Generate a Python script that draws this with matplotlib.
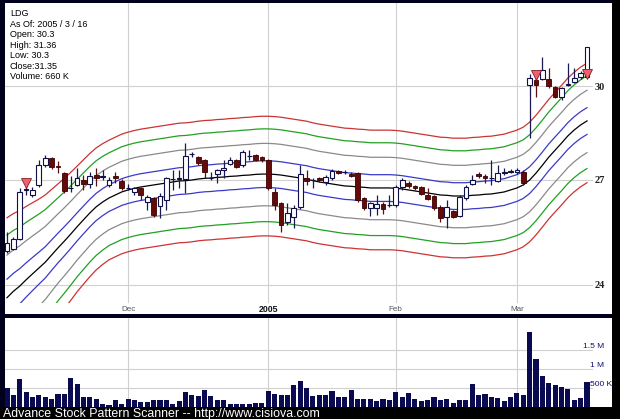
import matplotlib
matplotlib.use('Agg')
import matplotlib.pyplot as plt
import numpy as np
from matplotlib.patches import Rectangle
from matplotlib.ticker import FixedLocator, NullLocator, FixedFormatter

# ---------------- data ----------------
ticker = "LDG"
info_lines = ["LDG", "As Of: 2005 / 3 / 16", "Open: 30.3", "High: 31.36",
              "Low: 30.3", "Close:31.35", "Volume: 660 K"]

opens = [24.93, 24.99, 25.27, 26.70, 26.55, 26.85, 27.45, 27.67, 27.42, 27.21,
         26.75, 26.85, 27.00, 26.88, 27.15, 27.10, 26.85, 27.12, 26.97, 26.75,
         26.64, 26.76, 26.34, 26.46, 26.23, 26.40, 27.03, 27.03, 27.03, 27.80,
         27.70, 27.61, 27.06, 27.18, 27.30, 27.49, 27.61, 27.45, 27.73, 27.76,
         27.70, 27.61, 26.64, 26.31, 25.76, 25.90, 26.20, 27.06, 27.00, 27.06,
         26.94, 27.06, 27.27, 27.24, 27.18, 27.21, 26.46, 26.17, 26.17, 26.28,
         26.25, 26.25, 26.79, 26.91, 26.82, 26.79, 26.55, 26.52, 26.20, 25.91,
         26.08, 25.94, 26.46, 26.88, 27.18, 27.12, 27.06, 26.97, 27.21, 27.24,
         27.24, 27.24, 30.03, 30.20, 30.24, 30.24, 29.97, 29.63, 30.05, 30.13,
         30.30, 30.30]
highs = [25.47, 25.33, 26.75, 26.78, 26.80, 27.61, 27.77, 27.70, 27.58, 27.25,
         27.12, 27.36, 27.15, 27.24, 27.36, 27.30, 27.10, 27.24, 27.03, 26.88,
         26.80, 26.80, 26.55, 26.50, 26.60, 27.10, 27.30, 27.30, 28.15, 27.85,
         27.75, 27.65, 27.24, 27.35, 27.61, 27.70, 27.65, 27.92, 27.92, 27.80,
         27.75, 27.65, 26.76, 26.35, 26.31, 26.25, 27.45, 27.30, 27.05, 27.10,
         27.15, 27.35, 27.30, 27.30, 27.24, 27.25, 26.50, 26.35, 26.55, 26.35,
         26.55, 26.85, 27.05, 26.97, 26.85, 26.82, 26.76, 26.55, 26.25, 26.40,
         26.12, 26.55, 26.85, 27.15, 27.24, 27.18, 27.61, 27.45, 27.36, 27.35,
         27.36, 27.30, 30.40, 30.30, 30.99, 30.60, 30.00, 29.97, 30.79, 30.61,
         30.50, 31.36]
lows = [24.88, 24.96, 25.24, 26.55, 26.50, 26.80, 27.40, 27.35, 27.21, 26.60,
        26.64, 26.82, 26.70, 26.76, 26.82, 27.00, 26.80, 26.91, 26.70, 26.70,
        26.55, 26.40, 26.11, 25.90, 25.88, 26.11, 26.70, 26.76, 26.61, 27.70,
        27.45, 27.06, 27.00, 26.91, 27.06, 27.45, 27.36, 27.40, 27.61, 27.58,
        27.55, 26.70, 26.11, 25.47, 25.67, 25.58, 26.15, 26.85, 26.76, 26.95,
        26.85, 27.00, 27.18, 27.18, 27.08, 26.35, 26.10, 25.94, 25.97, 26.00,
        26.20, 26.20, 26.70, 26.76, 26.70, 26.55, 26.40, 26.11, 25.76, 25.58,
        25.88, 25.90, 26.40, 26.85, 27.06, 26.91, 26.85, 26.94, 27.15, 27.20,
        27.18, 26.85, 28.30, 29.63, 30.20, 29.95, 29.60, 29.53, 30.00, 30.10,
        30.25, 30.30]
closes = [25.16, 25.27, 26.63, 26.72, 26.70, 27.45, 27.67, 27.39, 27.40, 26.67,
          26.76, 27.06, 26.88, 27.12, 27.06, 27.12, 27.00, 27.06, 26.76, 26.76,
          26.76, 26.55, 26.49, 25.96, 26.52, 27.06, 27.03, 27.05, 27.73, 27.80,
          27.52, 27.24, 27.06, 27.30, 27.36, 27.61, 27.39, 27.86, 27.75, 27.61,
          27.61, 26.76, 26.25, 25.67, 26.02, 26.17, 27.18, 26.97, 27.00, 27.00,
          27.09, 27.27, 27.21, 27.24, 27.12, 26.40, 26.17, 26.31, 26.28, 26.14,
          26.25, 26.79, 27.00, 26.82, 26.76, 26.58, 26.43, 26.17, 25.88, 26.20,
          25.91, 26.49, 26.79, 27.00, 27.12, 27.06, 27.06, 27.21, 27.24, 27.27,
          27.30, 26.91, 30.27, 30.03, 30.54, 30.00, 29.63, 29.93, 30.08, 30.27,
          30.44, 31.35]
volumes_k = [510, 310, 730, 390, 260, 310, 250, 200, 330, 350,
             750, 600, 260, 250, 220, 90, 40, 190, 90, 210,
             190, 140, 140, 180, 180, 180, 90, 150, 390, 310,
             280, 460, 280, 190, 180, 70, 90, 90, 70, 110,
             110, 410, 350, 320, 320, 570, 680, 510, 280, 320,
             320, 410, 250, 250, 440, 220, 200, 200, 150, 220,
             190, 390, 260, 380, 200, 150, 190, 250, 180, 210,
             110, 190, 190, 610, 310, 350, 250, 230, 160, 250,
             380, 320, 1960, 1250, 810, 630, 570, 530, 480, 180,
             230, 660]
# centre line of the envelope (moving average)
center = [23.66, 23.83, 23.97, 24.14, 24.30, 24.46, 24.62, 24.82, 25.02, 25.21,
          25.41, 25.62, 25.82, 26.02, 26.20, 26.34, 26.46, 26.55, 26.64, 26.70,
          26.75, 26.79, 26.82, 26.85, 26.88, 26.91, 26.94, 26.97, 26.98, 27.00,
          27.03, 27.05, 27.06, 27.08, 27.09, 27.11, 27.12, 27.14, 27.15, 27.17,
          27.18, 27.18, 27.17, 27.15, 27.12, 27.09, 27.06, 27.03, 26.98, 26.94,
          26.91, 26.88, 26.85, 26.82, 26.81, 26.79, 26.78, 26.76, 26.76, 26.76,
          26.76, 26.75, 26.73, 26.70, 26.67, 26.64, 26.61, 26.58, 26.55, 26.54,
          26.52, 26.52, 26.52, 26.54, 26.55, 26.57, 26.58, 26.61, 26.64, 26.70,
          26.76, 26.85, 27.00, 27.21, 27.45, 27.70, 27.92, 28.14, 28.37, 28.56,
          28.72, 28.85]
# relative width of the envelope (wider where the early trend was steep)
spread = [1.40, 1.36, 1.32, 1.28, 1.24, 1.20, 1.17, 1.14, 1.11, 1.09,
          1.07, 1.05, 1.04, 1.03, 1.02, 1.01, 1.00, 1.00, 1.00, 1.00,
          1.00, 1.00, 1.00, 1.00, 1.00, 1.00, 1.00, 1.00, 1.00, 1.00,
          1.00, 1.00, 1.00, 1.00, 1.00, 1.00, 1.00, 1.00, 1.00, 1.00,
          1.00, 1.00, 1.00, 1.00, 1.00, 1.00, 1.00, 1.00, 1.00, 1.00,
          1.00, 1.00, 1.00, 1.00, 1.00, 1.00, 1.00, 1.00, 1.00, 1.00,
          1.00, 1.00, 1.00, 1.00, 1.00, 1.00, 1.00, 1.00, 1.00, 1.00,
          1.00, 1.00, 1.00, 1.00, 1.00, 1.00, 1.00, 1.00, 1.00, 1.00,
          1.00, 1.00, 1.00, 1.00, 1.00, 1.00, 1.00, 1.00, 1.00, 1.00,
          1.00, 1.00]
band_pcts = [0.015, 0.035, 0.052, 0.067]
band_colors = ['#3a3ac8', '#8a8a8a', '#22a022', '#cc3333']
signal_idx = [3, 83, 91]
signal_price = [26.91, 30.37, 30.42]
month_idx = [19, 41, 61, 80]
month_labels = ["Dec", "2005", "Feb", "Mar"]
price_ticks = [24, 27, 30]
vol_ticks = [500, 1000, 1500]
vol_labels = ["500 K", "1 M", "1.5 M"]

# ---------------- figure ----------------
W, H = 620, 419
fig = plt.figure(figsize=(W / 100, H / 100), dpi=100, facecolor='#00001c')


def fx(px):
    return px / W


def fy(py):
    return 1 - py / H


def rect(x0, y0, x1, y1, color):
    fig.patches.append(Rectangle((fx(x0), fy(y1)), fx(x1) - fx(x0), fy(y0) - fy(y1),
                                 transform=fig.transFigure, facecolor=color,
                                 edgecolor='none', zorder=-10))


rect(612, 0, 620, 419, 'black')
rect(0, 408, 620, 419, 'black')
rect(5, 3, 612, 313.5, 'white')
rect(5, 318, 612, 407, 'white')

n = len(closes)
x = np.arange(n)
xl = (-0.31, 91.94)

# ---------------- price panel ----------------
ax = fig.add_axes([fx(5), fy(303), (593 - 5) / W, (303 - 3) / H])
ax.set_facecolor('none')
ax.set_yscale('log')
ax.set_xlim(*xl)
ax.set_ylim(23.52, 32.93)
for s in ax.spines.values():
    s.set_visible(False)

ax.yaxis.set_major_locator(FixedLocator(price_ticks))
ax.yaxis.set_major_formatter(FixedFormatter([str(t) for t in price_ticks]))
ax.yaxis.set_minor_locator(NullLocator())
ax.yaxis.tick_right()
ax.tick_params(axis='y', length=0, pad=1, labelsize=7.5, labelcolor='#222222')
for lab in ax.get_yticklabels():
    lab.set_fontfamily('Liberation Serif')
    lab.set_fontweight('bold')
ax.set_xticks([])
for t in price_ticks:
    ax.axhline(t, color='#d0d0d0', lw=0.8, zorder=1)
for m in month_idx:
    ax.axvline(m, color='#d0d0d0', lw=0.8, zorder=1)

c = np.array(center)
sp = np.array(spread)
ax.plot(x, c, color='black', lw=0.9, zorder=2)
for p, col in zip(band_pcts, band_colors):
    ax.plot(x, c * (1 + p * sp), color=col, lw=0.9, zorder=2)
    ax.plot(x, c * (1 - p * sp), color=col, lw=0.9, zorder=2)

o = np.array(opens); h = np.array(highs); l = np.array(lows); cl = np.array(closes)
up = cl >= o
wick_col = np.where(up, '#1a1a50', '#5a1010')
ax.vlines(x, l, h, colors=wick_col, lw=0.9, zorder=3)
bw = 0.74
bot = np.minimum(o, cl)
top = np.maximum(o, cl)
hgt = np.maximum(top - bot, 0.012)
ax.bar(x[up], hgt[up], bottom=bot[up], width=bw, color='white',
       edgecolor='#101048', linewidth=0.8, zorder=4)
ax.bar(x[~up], hgt[~up], bottom=bot[~up], width=bw, color='#640a0a',
       edgecolor='#3a0000', linewidth=0.6, zorder=4)

ax.plot(signal_idx, signal_price, linestyle='none', marker='v', markersize=7,
        markerfacecolor='#f06070', markeredgecolor='#802020', markeredgewidth=0.6,
        zorder=5)

for m, lab in zip(month_idx, month_labels):
    bold = lab.isdigit()
    fig.text(fx(5 + (m - xl[0]) / (xl[1] - xl[0]) * 588), fy(309.5), lab,
             ha='center', va='center', fontsize=6.3 if bold else 5.8,
             fontweight='bold' if bold else 'normal',
             color='#111111' if bold else '#555555', family='Liberation Sans')

# info text
for k, line in enumerate(info_lines):
    fig.text(fx(10), fy(14 + 10.45 * k), line, fontsize=6.5, color='black',
             family='Liberation Sans', va='center', ha='left')

# ---------------- volume panel ----------------
vax = fig.add_axes([fx(5), fy(407), (593 - 5) / W, (407 - 318) / H])
vax.set_facecolor('none')
vax.set_xlim(*xl)
vax.set_ylim(0, 2340)
for s in vax.spines.values():
    s.set_visible(False)
vax.set_xticks([])
vax.set_yticks([])
for t in vol_ticks:
    vax.axhline(t, color='#d0d0d0', lw=0.8, zorder=1)
for m in month_idx:
    vax.axvline(m, color='#d0d0d0', lw=0.8, zorder=1)
vax.bar(x, volumes_k, width=0.8, color='#0a0a50', edgecolor='none', zorder=3)
for t, lab in zip(vol_ticks, vol_labels):
    ypx = 407 - t / 2340 * 89 - 3
    if lab.endswith('K'):
        fig.text(fx(590.5), fy(ypx), lab, ha='left', va='center', fontsize=6,
                 color='#101070', family='Liberation Sans')
    else:
        fig.text(fx(604), fy(ypx), lab, ha='right', va='center', fontsize=6,
                 color='#101070', family='Liberation Sans')

fig.text(fx(3), fy(413.5), "Advance Stock Pattern Scanner -- http://www.cisiova.com",
         color='white', fontsize=8.9, family='Liberation Sans', va='center', ha='left')

fig.savefig('out.png', dpi=100, facecolor=fig.get_facecolor())
